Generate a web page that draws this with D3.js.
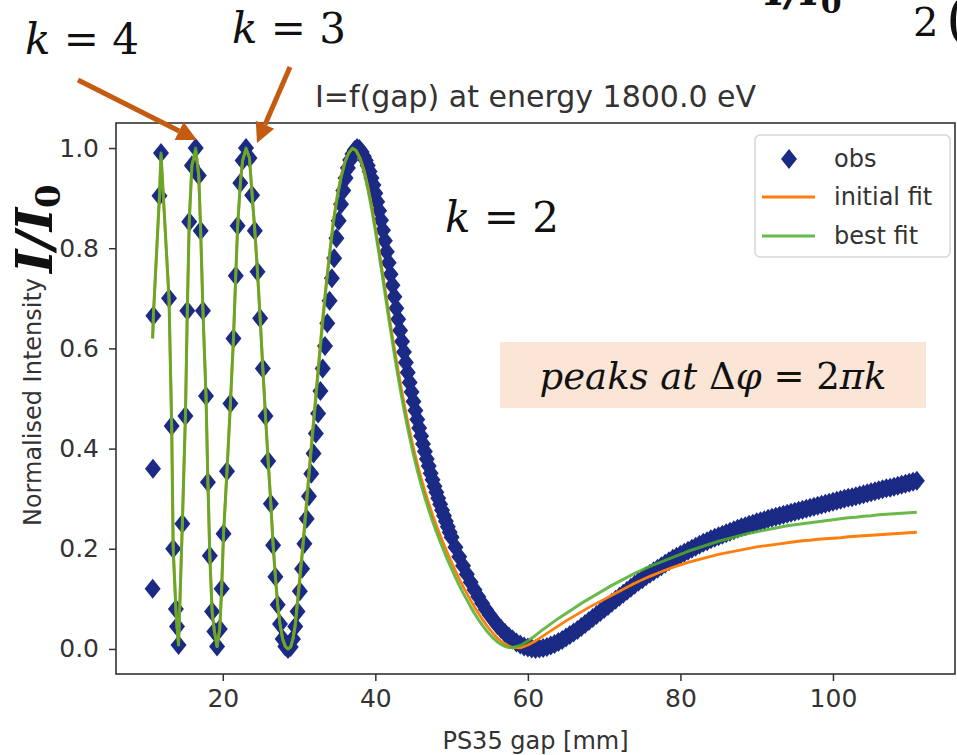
<!DOCTYPE html>
<html>
<head>
<meta charset="utf-8">
<script src="https://cdn.jsdelivr.net/npm/d3@7"></script>
<style>
  html, body { margin: 0; padding: 0; background: #fff; }
  svg { display: block; }
</style>
</head>
<body>
<svg id="chart" width="957" height="755"></svg>
<script>
// ---- measured scan: gap [mm] and normalised intensity ----
const obsGap = [
  10.80, 10.85, 10.90, 11.70, 11.90, 12.95, 13.30, 13.50, 13.85, 14.00, 14.20, 14.70, 15.10, 15.35, 15.60, 15.95,
  16.45, 16.85, 17.10, 17.40, 17.80, 18.05, 18.30, 18.60, 18.90, 19.25, 19.60, 19.85, 20.10, 20.55, 21.00, 21.40,
  21.70, 21.95, 22.30, 22.60, 23.05, 23.50, 23.85, 24.20, 24.55, 24.90, 25.25, 25.60, 25.95, 26.30, 26.60, 26.90,
  27.20, 27.50, 27.85, 28.20, 28.55, 28.90, 29.20, 29.50,
  29.80, 30.10, 30.40, 30.70, 31.00, 31.30, 31.60, 31.90, 32.20, 32.50, 32.80, 33.10, 33.40, 33.70, 34.00, 34.30,
  34.60, 34.90, 35.20, 35.50, 35.80, 36.10, 36.40, 36.70, 37.00, 37.30, 37.60, 37.90, 38.20,
  38.50, 38.75, 39.00, 39.25, 39.50, 39.75, 40.00, 40.25, 40.50, 40.75, 41.00, 41.25, 41.50, 41.75, 42.00, 42.25,
  42.50, 42.75, 43.00, 43.25, 43.50, 43.75, 44.00, 44.25, 44.50, 44.75, 45.00, 45.25, 45.50, 45.75, 46.00, 46.25,
  46.50, 46.75, 47.00, 47.25, 47.50, 47.75, 48.00, 48.25, 48.50, 48.75, 49.00, 49.25, 49.50, 49.75, 50.00,
  50.5, 51, 51.5, 52, 52.5, 53, 53.5, 54, 54.5, 55, 55.5, 56, 56.5, 57, 57.5, 58, 58.5, 59, 59.5, 60,
  60.5, 61, 61.5, 62, 62.5, 63, 63.5, 64, 64.5, 65, 65.5, 66, 66.5, 67, 67.5, 68, 68.5, 69, 69.5, 70,
  70.5, 71, 71.5, 72, 72.5, 73, 73.5, 74, 74.5, 75, 75.5, 76, 76.5, 77, 77.5, 78, 78.5, 79, 79.5, 80,
  80.5, 81, 81.5, 82, 82.5, 83, 83.5, 84, 84.5, 85, 85.5, 86, 86.5, 87, 87.5, 88, 88.5, 89, 89.5, 90,
  90.5, 91, 91.5, 92, 92.5, 93, 93.5, 94, 94.5, 95, 95.5, 96, 96.5, 97, 97.5, 98, 98.5, 99, 99.5, 100,
  100.5, 101, 101.5, 102, 102.5, 103, 103.5, 104, 104.5, 105, 105.5, 106, 106.5, 107, 107.5, 108, 108.5, 109, 109.5, 110,
  110.5, 111
];
const obsI = [
  0.12, 0.36, 0.665, 0.905, 0.99, 0.70, 0.445, 0.20, 0.08, 0.045, 0.008, 0.25, 0.465, 0.675, 0.853, 0.965,
  1.0, 0.945, 0.835, 0.675, 0.505, 0.333, 0.186, 0.075, 0.035, 0.005, 0.04, 0.12, 0.23, 0.355, 0.49, 0.62,
  0.745, 0.845, 0.93, 0.975, 1.0, 0.98, 0.906, 0.835, 0.753, 0.66, 0.56, 0.465, 0.375, 0.29, 0.207, 0.144,
  0.088, 0.05, 0.02, 0.005, 0.0, 0.004, 0.02, 0.045,
  0.075, 0.115, 0.16, 0.21, 0.26, 0.305, 0.35, 0.39, 0.43, 0.47, 0.515, 0.56, 0.605, 0.65, 0.695, 0.74,
  0.78, 0.82, 0.855, 0.888, 0.915, 0.94, 0.96, 0.976, 0.988, 0.996, 1.0, 0.998, 0.992,
  0.983, 0.975, 0.965, 0.953, 0.94, 0.926, 0.91, 0.893, 0.875, 0.856, 0.836, 0.815, 0.793, 0.771, 0.748, 0.726,
  0.703, 0.68, 0.658, 0.636, 0.614, 0.593, 0.572, 0.552, 0.532, 0.513, 0.494, 0.476, 0.458, 0.441, 0.425, 0.409,
  0.394, 0.379, 0.365, 0.351, 0.338, 0.325, 0.313, 0.301, 0.289, 0.277, 0.266, 0.255, 0.244, 0.233, 0.223,
  0.203, 0.184, 0.166, 0.149, 0.133, 0.118, 0.104, 0.091, 0.079, 0.068, 0.058, 0.048, 0.04, 0.032, 0.025, 0.019, 0.013, 0.009, 0.005, 0.003,
  0.001, 0.0, 0.001, 0.002, 0.004, 0.007, 0.01, 0.014, 0.018, 0.023, 0.028, 0.033, 0.038, 0.044, 0.05, 0.056, 0.062, 0.068, 0.074, 0.08,
  0.086, 0.092, 0.098, 0.104, 0.11, 0.116, 0.122, 0.128, 0.134, 0.139, 0.145, 0.15, 0.155, 0.16, 0.165, 0.17, 0.175, 0.18, 0.184, 0.188,
  0.192, 0.196, 0.2, 0.204, 0.208, 0.212, 0.215, 0.219, 0.222, 0.225, 0.228, 0.231, 0.234, 0.237, 0.24, 0.243, 0.245, 0.248, 0.25, 0.253,
  0.255, 0.257, 0.26, 0.262, 0.264, 0.266, 0.268, 0.27, 0.272, 0.274, 0.276, 0.278, 0.28, 0.282, 0.284, 0.286, 0.288, 0.29, 0.292, 0.294,
  0.296, 0.298, 0.3, 0.302, 0.303, 0.305, 0.307, 0.309, 0.311, 0.313, 0.315, 0.317, 0.319, 0.321, 0.322, 0.324, 0.326, 0.328, 0.33, 0.332,
  0.334, 0.336
];

// ---- model curves: gap grid, initial parameters and least-squares result ----
const fitGap = [
  10.80, 10.85, 10.90, 11.70, 11.90, 12.95, 13.30, 13.50, 13.85, 14.00, 14.20, 14.70, 15.10, 15.35, 15.60, 15.95,
  16.45, 16.85, 17.10, 17.40, 17.80, 18.05, 18.30, 18.60, 18.90, 19.25, 19.60, 19.85, 20.10, 20.55, 21.00, 21.40,
  21.70, 21.95, 22.30, 22.60, 23.05, 23.50, 23.85, 24.20, 24.55, 24.90, 25.25, 25.60, 25.95, 26.30, 26.60, 26.90,
  27.20, 27.50, 27.85, 28.20, 28.55, 28.90, 29.20, 29.50,
  30, 30.5, 31, 31.5, 32, 32.5, 33, 33.5, 34, 34.5, 35, 35.5, 36, 36.5, 37, 37.5, 38, 38.5, 39, 39.5,
  40, 40.5, 41, 41.5, 42, 42.5, 43, 43.5, 44, 44.5, 45, 45.5, 46, 46.5, 47, 47.5, 48, 48.5, 49, 49.5,
  50, 50.5, 51, 51.5, 52, 52.5, 53, 53.5, 54, 54.5, 55, 55.5, 56, 56.5, 57, 57.5, 58,
  59, 60, 61, 62, 63, 64, 65, 66, 67, 68, 69, 70, 71, 72, 73, 74, 75, 76, 77, 78,
  79, 80, 81, 82, 83, 84, 85, 86, 87, 88, 89, 90, 91, 92, 93, 94, 95, 96, 97, 98,
  99, 100, 101, 102, 103, 104, 105, 106, 107, 108, 109, 110, 111
];
const initialFit = [
  0.62, 0.64, 0.665, 0.905, 0.985, 0.70, 0.445, 0.20, 0.08, 0.045, 0.008, 0.25, 0.465, 0.675, 0.853, 0.965,
  0.995, 0.945, 0.835, 0.675, 0.505, 0.333, 0.186, 0.075, 0.035, 0.005, 0.04, 0.12, 0.23, 0.355, 0.49, 0.62,
  0.745, 0.845, 0.93, 0.975, 0.998, 0.98, 0.906, 0.835, 0.753, 0.66, 0.56, 0.465, 0.375, 0.29, 0.207, 0.144,
  0.088, 0.05, 0.02, 0.005, 0.0, 0.004, 0.02, 0.05,
  0.13, 0.21, 0.30, 0.39, 0.475, 0.56, 0.645, 0.722, 0.79, 0.855, 0.905, 0.943, 0.972, 0.99, 0.999, 0.995, 0.98, 0.957, 0.925, 0.886,
  0.842, 0.795, 0.746, 0.696, 0.647, 0.6, 0.555, 0.512, 0.472, 0.435, 0.401, 0.37, 0.341, 0.315, 0.291, 0.268, 0.247, 0.227, 0.208, 0.19,
  0.173, 0.156, 0.14, 0.125, 0.111, 0.097, 0.084, 0.072, 0.06, 0.049, 0.039, 0.03, 0.022, 0.015, 0.01, 0.006, 0.003,
  0.002, 0.008, 0.016, 0.026, 0.036, 0.046, 0.056, 0.065, 0.074, 0.083, 0.091, 0.099, 0.107, 0.115, 0.123, 0.131, 0.138, 0.145, 0.151, 0.157,
  0.163, 0.168, 0.173, 0.177, 0.181, 0.185, 0.189, 0.192, 0.195, 0.198, 0.201, 0.204, 0.206, 0.208, 0.21, 0.212, 0.214, 0.216, 0.217, 0.219,
  0.22, 0.221, 0.222, 0.224, 0.225, 0.226, 0.227, 0.228, 0.229, 0.23, 0.231, 0.232, 0.233
];
const bestFit = [
  0.62, 0.64, 0.665, 0.905, 0.99, 0.70, 0.445, 0.20, 0.08, 0.045, 0.008, 0.25, 0.465, 0.675, 0.853, 0.965,
  1.0, 0.945, 0.835, 0.675, 0.505, 0.333, 0.186, 0.075, 0.035, 0.005, 0.04, 0.12, 0.23, 0.355, 0.49, 0.62,
  0.745, 0.845, 0.93, 0.975, 1.0, 0.98, 0.906, 0.835, 0.753, 0.66, 0.56, 0.465, 0.375, 0.29, 0.207, 0.144,
  0.088, 0.05, 0.02, 0.005, 0.0, 0.004, 0.02, 0.045,
  0.12, 0.2, 0.29, 0.38, 0.465, 0.55, 0.635, 0.715, 0.785, 0.85, 0.9, 0.94, 0.97, 0.99, 1.0, 0.994, 0.978, 0.953, 0.92, 0.88,
  0.835, 0.787, 0.737, 0.686, 0.636, 0.588, 0.542, 0.499, 0.459, 0.422, 0.388, 0.357, 0.328, 0.302, 0.278, 0.255, 0.234, 0.214, 0.195, 0.177,
  0.16, 0.143, 0.127, 0.112, 0.098, 0.084, 0.071, 0.059, 0.048, 0.038, 0.029, 0.021, 0.014, 0.009, 0.005, 0.003, 0.003,
  0.007, 0.016, 0.027, 0.039, 0.05, 0.061, 0.071, 0.081, 0.091, 0.1, 0.109, 0.118, 0.127, 0.135, 0.143, 0.151, 0.158, 0.165, 0.171, 0.177,
  0.183, 0.189, 0.195, 0.2, 0.205, 0.21, 0.215, 0.219, 0.223, 0.227, 0.231, 0.234, 0.237, 0.24, 0.243, 0.246, 0.248, 0.25, 0.252, 0.254,
  0.256, 0.258, 0.26, 0.262, 0.263, 0.265, 0.266, 0.268, 0.269, 0.27, 0.271, 0.272, 0.273
];

const xTicks = [20, 40, 60, 80, 100];
const yTicks = [0.0, 0.2, 0.4, 0.6, 0.8, 1.0];
const legendLabels = ["obs", "initial fit", "best fit"];

// ---- layout ----
const W = 957, H = 755;
const plot = { left: 116, right: 955, top: 123, bottom: 674 };
const colObs = "#1b2a84", colInit = "#ff7f0e", colBest = "#4fae2c";
const accent = "#c55a11";
const sansFont = "'DejaVu Sans', sans-serif";
const mathFont = "'DejaVu Serif', serif";

const svg = d3.select("#chart");
svg.append("rect").attr("width", W).attr("height", H).attr("fill", "#fff");

const x = d3.scaleLinear().domain([6, 116]).range([plot.left, plot.right]);
const y = d3.scaleLinear().domain([-0.05, 1.05]).range([plot.bottom, plot.top]);

svg.append("defs").append("clipPath").attr("id", "plotArea")
  .append("rect")
  .attr("x", plot.left).attr("y", plot.top)
  .attr("width", plot.right - plot.left).attr("height", plot.bottom - plot.top);

const area = svg.append("g").attr("clip-path", "url(#plotArea)");

// observed points as filled diamonds
const obs = obsGap.map((g, i) => [g, obsI[i]]).filter(d => d[1] !== undefined);
const diamond = "M0,-10L8,0L0,10L-8,0Z";
area.append("g").selectAll("path")
  .data(obs)
  .join("path")
  .attr("d", diamond)
  .attr("transform", d => `translate(${x(d[0])},${y(d[1])})`)
  .attr("fill", colObs);

// fitted curves
const line = d3.line().x(d => x(d[0])).y(d => y(d[1]));
const initPts = fitGap.map((g, i) => [g, initialFit[i]]).filter(d => d[1] !== undefined);
const bestPts = fitGap.map((g, i) => [g, bestFit[i]]).filter(d => d[1] !== undefined);
area.append("path").datum(initPts)
  .attr("d", line).attr("fill", "none")
  .attr("stroke", colInit).attr("stroke-width", 2.8).attr("stroke-linejoin", "round");
area.append("path").datum(bestPts)
  .attr("d", line).attr("fill", "none")
  .attr("stroke", colBest).attr("stroke-opacity", 0.85)
  .attr("stroke-width", 3).attr("stroke-linejoin", "round");

// axes
const xAxis = d3.axisBottom(x).tickValues(xTicks).tickSize(7).tickPadding(8).tickFormat(d3.format("d"));
const yAxis = d3.axisLeft(y).tickValues(yTicks).tickSize(7).tickPadding(10).tickFormat(d3.format(".1f"));

const gx = svg.append("g").attr("transform", `translate(0,${plot.bottom})`).call(xAxis);
const gy = svg.append("g").attr("transform", `translate(${plot.left},0)`).call(yAxis);
[gx, gy].forEach(g => {
  g.select(".domain").remove();
  g.selectAll(".tick line").attr("stroke", "#333").attr("stroke-width", 1.5);
  g.selectAll(".tick text").attr("fill", "#333").attr("font-family", sansFont).attr("font-size", 25);
});

// frame
svg.append("rect")
  .attr("x", plot.left).attr("y", plot.top)
  .attr("width", plot.right - plot.left).attr("height", plot.bottom - plot.top)
  .attr("fill", "none").attr("stroke", "#333").attr("stroke-width", 1.6);

// titles
svg.append("text")
  .attr("x", (plot.left + plot.right) / 2).attr("y", 107)
  .attr("text-anchor", "middle")
  .attr("font-family", sansFont).attr("font-size", 30).attr("fill", "#333")
  .text("I=f(gap) at energy 1800.0 eV");
svg.append("text")
  .attr("x", (plot.left + plot.right) / 2).attr("y", 749)
  .attr("text-anchor", "middle")
  .attr("font-family", sansFont).attr("font-size", 24).attr("fill", "#333")
  .text("PS35 gap [mm]");
svg.append("text")
  .attr("transform", `translate(41,402) rotate(-90)`)
  .attr("text-anchor", "middle")
  .attr("font-family", sansFont).attr("font-size", 24).attr("fill", "#333")
  .text("Normalised Intensity");

// legend
const lg = svg.append("g");
lg.append("rect")
  .attr("x", 755).attr("y", 135).attr("width", 195).attr("height", 122).attr("rx", 5)
  .attr("fill", "#fff").attr("fill-opacity", 0.85)
  .attr("stroke", "#d6d6d6").attr("stroke-width", 1.5);
const rowY = [159, 197, 236];
lg.append("path").attr("d", diamond).attr("transform", `translate(789,${rowY[0]})`).attr("fill", colObs);
lg.append("line").attr("x1", 762).attr("x2", 815).attr("y1", rowY[1]).attr("y2", rowY[1])
  .attr("stroke", colInit).attr("stroke-width", 2.8);
lg.append("line").attr("x1", 762).attr("x2", 815).attr("y1", rowY[2]).attr("y2", rowY[2])
  .attr("stroke", colBest).attr("stroke-opacity", 0.85).attr("stroke-width", 3);
lg.selectAll("text.lab").data(legendLabels).join("text")
  .attr("class", "lab")
  .attr("x", 834).attr("y", (d, i) => rowY[i] + 8)
  .attr("font-family", sansFont).attr("font-size", 24).attr("fill", "#333")
  .text(d => d);

// ---- slide annotations ----
function mathText(parent, px, py, size, parts, anchor) {
  const t = parent.append("text")
    .attr("x", px).attr("y", py)
    .attr("font-family", mathFont).attr("font-size", size).attr("fill", "#111")
    .attr("text-anchor", anchor || "start");
  parts.forEach(p => {
    const s = t.append("tspan").text(p.t);
    if (p.i) s.attr("font-style", "italic");
    if (p.b) s.attr("font-weight", "bold");
    if (p.size) s.attr("font-size", p.size);
    if (p.dy) s.attr("dy", p.dy);
  });
  return t;
}

function arrow(x1, y1, x2, y2) {
  const dx = x2 - x1, dy = y2 - y1, len = Math.hypot(dx, dy);
  const ux = dx / len, uy = dy / len;
  const hl = 20, hw = 10;
  const bx = x2 - ux * hl, by = y2 - uy * hl;
  svg.append("line").attr("x1", x1).attr("y1", y1).attr("x2", bx).attr("y2", by)
    .attr("stroke", accent).attr("stroke-width", 5);
  svg.append("path")
    .attr("d", `M${x2},${y2}L${bx - uy * hw},${by + ux * hw}L${bx + uy * hw},${by - ux * hw}Z`)
    .attr("fill", accent);
}

mathText(svg, 25, 54, 42, [{ t: "k", i: true }, { t: " = 4" }]);
mathText(svg, 232, 43, 42, [{ t: "k", i: true }, { t: " = 3" }]);
mathText(svg, 445, 232, 42, [{ t: "k", i: true }, { t: " = 2" }]);

arrow(78, 80, 197, 140);
arrow(290, 67, 257, 143);

svg.append("rect").attr("x", 500).attr("y", 342).attr("width", 426).attr("height", 66).attr("fill", "#fbe5d6");
mathText(svg, 713, 389, 37, [
  { t: "peaks at ", i: true }, { t: "Δ" }, { t: "φ", i: true }, { t: " = 2" }, { t: "πk", i: true }
], "middle");

// ratio symbol beside the y axis
svg.append("g").attr("transform", "translate(52,273) rotate(-90)")
  .call(g => mathText(g, 0, 0, 50, [{ t: "I/I", i: true, b: true }, { t: "0", b: true, size: 34, dy: 8 }]));

// formula running off the top edge
mathText(svg, 766, 5, 42, [{ t: "I/I", i: true, b: true }, { t: "0", b: true, size: 30, dy: 8 }]);
mathText(svg, 913, 36, 40, [{ t: "2" }]);
mathText(svg, 946, 38, 56, [{ t: "(" }]);
</script>
</body>
</html>
